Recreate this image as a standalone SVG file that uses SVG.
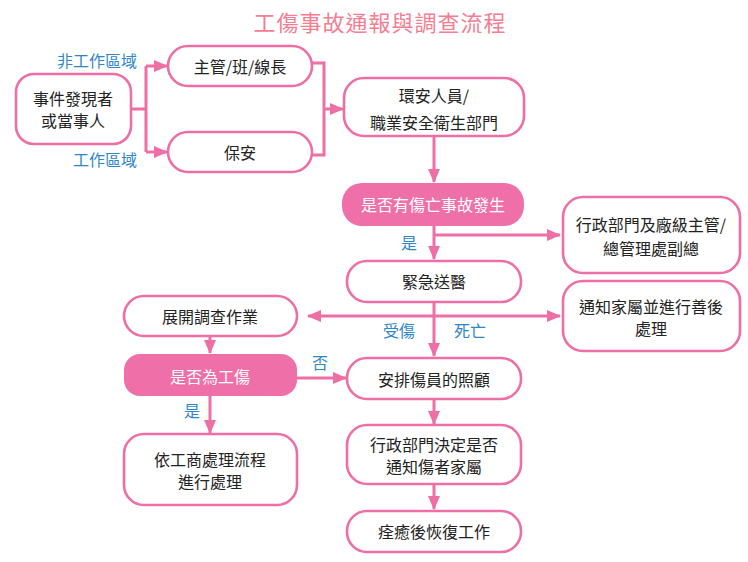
<svg xmlns="http://www.w3.org/2000/svg" width="748" height="562" viewBox="0 0 748 562">
<defs>
<style>
.t{font-family:"Noto Sans CJK TC","Noto Sans CJK SC",sans-serif;font-size:16px;fill:#222;text-anchor:middle;dominant-baseline:central}
.w{fill:#fff}
.b{fill:#2f86c8}
.title{font-family:"Noto Sans CJK TC","Noto Sans CJK SC",sans-serif;font-size:22px;fill:#f47d92;text-anchor:middle;dominant-baseline:central;letter-spacing:1px}
.n{fill:#fff;stroke:#ee6ea6;stroke-width:2.6}
.f{fill:#ef6fa8;stroke:none}
.c{fill:none;stroke:#ee6ea6;stroke-width:3}
</style>
<marker id="ah" markerUnits="userSpaceOnUse" markerWidth="14" markerHeight="12" refX="13" refY="6" orient="auto-start-reverse">
<path d="M0,0 L14,6 L0,12 Z" fill="#ee6ea6"/>
</marker>
</defs>
<rect width="748" height="562" fill="#fff"/>
<text class="title" x="380" y="21">工傷事故通報與調查流程</text>

<g id="connectors">
<path class="c" d="M131,109 H146 M146,66 V152"/>
<path class="c" d="M146,66 H167" marker-end="url(#ah)"/>
<path class="c" d="M146,152 H167" marker-end="url(#ah)"/>
<path class="c" d="M312,63 H324 V155 H312"/>
<path class="c" d="M324,109 H343" marker-end="url(#ah)"/>
<path class="c" d="M434,137 V182" marker-end="url(#ah)"/>
<path class="c" d="M434,226 V259" marker-end="url(#ah)"/>
<path class="c" d="M434,235 H560" marker-end="url(#ah)"/>
<path class="c" d="M434,302 V356" marker-end="url(#ah)"/>
<path class="c" d="M308,316 H560" marker-start="url(#ah)" marker-end="url(#ah)"/>
<path class="c" d="M210,337 V353" marker-end="url(#ah)"/>
<path class="c" d="M297,378 H346" marker-end="url(#ah)"/>
<path class="c" d="M210,396 V433" marker-end="url(#ah)"/>
<path class="c" d="M434,399 V424" marker-end="url(#ah)"/>
<path class="c" d="M434,484 V509" marker-end="url(#ah)"/>
<text class="t b" x="97" y="60">非工作區域</text>
<text class="t b" x="105" y="159">工作區域</text>
<text class="t b" x="409" y="242">是</text>
<text class="t b" x="399" y="330">受傷</text>
<text class="t b" x="470" y="330">死亡</text>
<text class="t b" x="320" y="362">否</text>
<text class="t b" x="192" y="410">是</text>
</g>

<g id="n1"><rect class="n" x="16" y="74" width="115" height="70" rx="18"/>
<text class="t" x="73" y="98">事件發現者</text><text class="t" x="73" y="120">或當事人</text></g>
<g id="n2"><rect class="n" x="168" y="46" width="144" height="40" rx="20"/>
<text class="t" x="240" y="66">主管/班/線長</text></g>
<g id="n3"><rect class="n" x="168" y="132" width="144" height="40" rx="20"/>
<text class="t" x="240" y="152">保安</text></g>
<g id="n4"><rect class="n" x="344" y="78" width="180" height="58" rx="20"/>
<text class="t" x="434" y="95">環安人員/</text><text class="t" x="434" y="122">職業安全衛生部門</text></g>
<g id="n5"><rect class="f" x="342" y="183" width="182" height="43" rx="20"/>
<text class="t w" x="433" y="204">是否有傷亡事故發生</text></g>
<g id="n6"><rect class="n" x="563" y="197" width="177" height="76" rx="20"/>
<text class="t" x="651" y="224">行政部門及廠級主管/</text><text class="t" x="651" y="248">總管理處副總</text></g>
<g id="n7"><rect class="n" x="347" y="261" width="174" height="41" rx="20"/>
<text class="t" x="434" y="281">緊急送醫</text></g>
<g id="n8"><rect class="n" x="563" y="281" width="177" height="70" rx="20"/>
<text class="t" x="651" y="306">通知家屬並進行善後</text><text class="t" x="651" y="328">處理</text></g>
<g id="n9"><rect class="n" x="124" y="296" width="173" height="40" rx="20"/>
<text class="t" x="210" y="316">展開調查作業</text></g>
<g id="n10"><rect class="f" x="124" y="354" width="173" height="42" rx="16"/>
<text class="t w" x="210" y="376">是否為工傷</text></g>
<g id="n11"><rect class="n" x="347" y="358" width="174" height="41" rx="20"/>
<text class="t" x="434" y="379">安排傷員的照顧</text></g>
<g id="n12"><rect class="n" x="124" y="434" width="173" height="71" rx="20"/>
<text class="t" x="210" y="459">依工商處理流程</text><text class="t" x="210" y="481">進行處理</text></g>
<g id="n13"><rect class="n" x="347" y="425" width="174" height="59" rx="20"/>
<text class="t" x="434" y="444">行政部門決定是否</text><text class="t" x="434" y="466">通知傷者家屬</text></g>
<g id="n14"><rect class="n" x="347" y="511" width="174" height="41" rx="20"/>
<text class="t" x="434" y="531">痊癒後恢復工作</text></g>
</svg>
